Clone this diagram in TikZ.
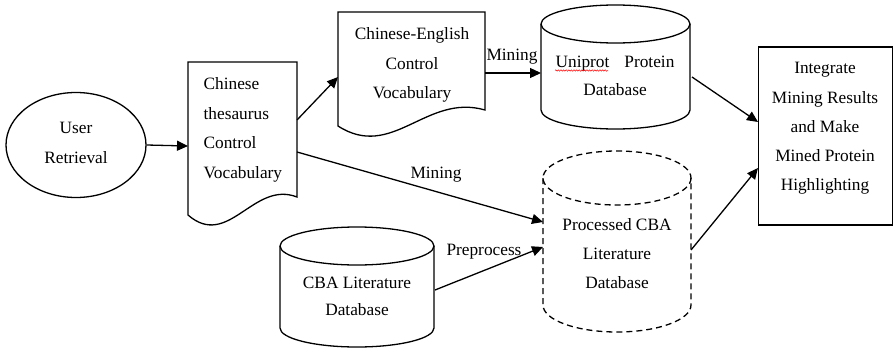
\documentclass[tikz,border=0pt]{standalone}
\usepackage{fontspec}
\setmainfont{Liberation Serif}
\usetikzlibrary{shapes.geometric,arrows.meta,decorations.pathmorphing}

% cylinder: left x, right x, top-ellipse centre y, radius y, bottom side y
\newcommand{\dbcyl}[6][]{%
  \pgfmathsetmacro{\cxm}{(#2+#3)/2}%
  \pgfmathsetmacro{\crx}{(#3-#2)/2}%
  \draw[#1] (\cxm,#4) ellipse [x radius=\crx, y radius=#5];
  \draw[#1] (#2,#4) -- (#2,#6) arc[start angle=180, end angle=0, x radius=\crx, y radius=#5] -- (#3,#4);
}
% document: left x, right x, top y, left bottom y, right bottom y
\newcommand{\docshape}[5]{%
  \pgfmathsetmacro{\dwa}{#1+0.37*(#2-#1)}%
  \pgfmathsetmacro{\dwb}{#1+0.6*(#2-#1)}%
  \draw (#1,#3) -- (#2,#3) -- (#2,#5)
    .. controls (\dwb,#5-17) and (\dwa,#4+35) .. (#1,#4) -- cycle;
}

\tikzset{
  lbl/.style={font=\fontsize{17.3}{29.5}\selectfont, align=center, inner sep=0pt},
  arr/.style={-{Triangle[length=11pt,width=10pt]}, line width=1.3pt},
}

\begin{document}
\begin{tikzpicture}[x=1pt,y=-1pt,line width=1.3pt]
\useasboundingbox (0,0) rectangle (894,348);

% user retrieval
\node[ellipse, draw, minimum width=140pt, minimum height=105pt, inner sep=0pt] (user) at (76,145) {};
\node[lbl] (usertxt) at (76,143) {User\\Retrieval};

% Chinese thesaurus document
\docshape{188}{297}{62}{215}{197}
\node[lbl, align=left, anchor=west] (thes) at (203,130) {Chinese\\thesaurus\\Control\\Vocabulary};
\coordinate (thes-w) at (188,146);
\coordinate (thes-ne) at (297,120);
\coordinate (thes-e) at (297,152);

% Chinese-English document
\docshape{338}{485}{12}{126}{110}
\node[lbl] (cev) at (412,65) {Chinese-English\\Control\\Vocabulary};
\coordinate (cev-w) at (338,77);
\coordinate (cev-e) at (485,73);

% Uniprot database
\dbcyl{541}{690}{24}{19}{110}
\node[lbl, font=\fontsize{17.3}{28}\selectfont] (uni) at (615,76) {Uniprot\hspace{15pt}Protein\\Database};
\draw[red, line width=0.5pt, decorate, decoration={snake, amplitude=0.7pt, segment length=2.6pt}] (555,70.5) -- (608,70.5);
\coordinate (uni-w) at (541,73);
\coordinate (uni-e) at (692,77);

% processed literature database
\dbcyl[dashed, dash pattern=on 6pt off 4pt]{543}{691}{178}{27}{305}
\node[lbl, font=\fontsize{17.3}{29}\selectfont] (proc) at (617,254) {Processed CBA\\Literature\\Database};
\coordinate (proc-w1) at (543,222);
\coordinate (proc-w2) at (543,247);
\coordinate (proc-e) at (691,250);

% CBA literature database
\dbcyl{280}{434}{246}{19}{328}
\node[lbl, font=\fontsize{17.3}{27}\selectfont] (cba) at (357,296) {CBA Literature\\Database};
\coordinate (cba-e) at (435,290);

% result box
\node[draw, minimum width=134pt, minimum height=178pt, inner sep=0pt] (res) at (825.5,136) {};
\node[lbl, font=\fontsize{17.3}{29.2}\selectfont] (restxt) at (825,128.5) {Integrate\\Mining Results\\and Make\\Mined Protein\\Highlighting};
\coordinate (res-w1) at (758,122);
\coordinate (res-w2) at (758,168);

% connectors
\draw[arr] (user.east) -- (thes-w);
\draw[arr] (thes-ne) -- (cev-w);
\draw[arr] (cev-e) -- (uni-w);
\node[lbl] (m1) at (512,57) {Mining};
\draw[arr] (thes-e) -- (proc-w1);
\node[lbl] (m2) at (436,175) {Mining};
\draw[arr] (cba-e) -- (proc-w2);
\node[lbl] (pre) at (484,252) {Preprocess};
\draw[arr] (uni-e) -- (res-w1);
\draw[arr] (proc-e) -- (res-w2);
\end{tikzpicture}
\end{document}
